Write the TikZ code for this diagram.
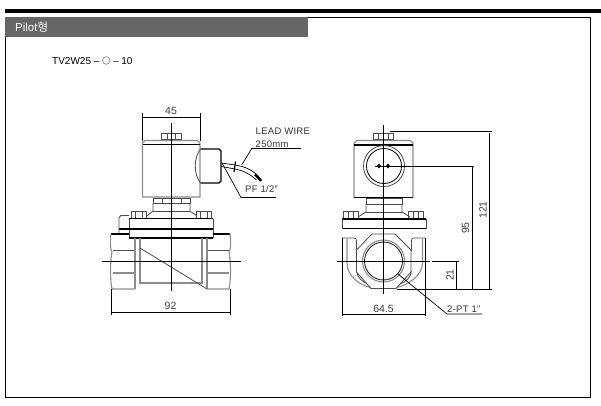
\documentclass[tikz,border=0pt]{standalone}
\usepackage{fontspec}
\setmainfont{Liberation Sans}
\newfontfamily\krfont{Noto Sans CJK KR}
\tikzset{
  part/.style={line width=0.8pt,black!70},
  grayp/.style={line width=1.1pt,black!45},
  heavy/.style={line width=1.1pt,black},
  dimline/.style={line width=0.7pt,black},
  center line/.style={line width=0.8pt,black},
  lab/.style={inner sep=0pt,font=\fontsize{10.5}{10.5}\selectfont,text=black!75},
  spaced/.style={inner sep=0pt,anchor=west,font=\fontsize{9.5}{10}\selectfont,text=black!80},
}
\begin{document}
\begin{tikzpicture}[x=1pt,y=-1pt]
\useasboundingbox (0,0) rectangle (601,405);
\fill[white] (0,0) rectangle (601,405);
% frame
\fill[black] (5,9) rectangle (601,13);
\draw[line width=0.9pt] (308,17.5) -- (590,17.5) -- (590,397) -- (5.5,397) -- (5.5,37);
\fill[black!60] (5,17) rectangle (308,37);
\node[inner sep=0pt,anchor=west,text=white,font=\fontsize{11.5}{12}\selectfont] (title) at (15,27.5) {Pilot{\krfont 형}};
\node[inner sep=0pt,anchor=west,font=\fontsize{10}{10}\selectfont] (model) at (52,60.5) {TV2W25 – \tikz[baseline=-3.5pt,x=1pt,y=1pt]\draw[line width=0.5pt,black!60] (0,0) circle[radius=3.8]; – 10};
% ---- left view
\draw[part] (161,139) -- (161,133) -- (181,133) -- (181,139) -- cycle;
\draw[part] (167,133) -- (167,139) (175,133) -- (175,139);
\draw[grayp] (142.5,197) -- (142.5,143) -- (145,140.5) -- (197,140.5) -- (200,143) -- (200,197) -- cycle;
\draw[heavy] (142.5,144.5) -- (200,144.5);
\draw[heavy] (200.5,149) -- (219,149) -- (221,151) -- (221,181) -- (219,183) -- (200.5,183);
\draw[part] (200.5,149) .. controls (193.5,158) and (193.5,174) .. (200.5,183);
% wires and leaders
\draw[line width=0.7pt] (221.5,163) -- (235,165) .. controls (245,166.5) and (254,170) .. (261.5,180);
\draw[line width=0.7pt] (221.5,166.5) -- (235,169) .. controls (243,170.5) and (250,174) .. (256.5,180);
\draw[line width=2.2pt] (255,174.5) -- (261,181);
\draw[line width=1.2pt] (235.5,161.5) -- (234,172);
\coordinate (lw1) at (241.7,165);\coordinate (lw2) at (251.7,148.5);\coordinate (lw3) at (301,148.5);
\draw[dimline] (lw1) -- (lw2) -- (lw3);
\coordinate (pf1) at (222,163);\coordinate (pf2) at (241,197.5);\coordinate (pf3) at (276,197.5);
\draw[dimline] (pf1) -- (pf2) -- (pf3);
\node[spaced] (lead) at (255.5,131.5) {\addfontfeature{LetterSpace=3}LEAD WIRE};
\node[spaced] (len) at (255.5,144) {\addfontfeature{LetterSpace=3}250mm};
\node[spaced] (pf) at (245,189.5) {\addfontfeature{LetterSpace=3}PF 1/2"};
% nut, neck
\draw[part] (153,203) -- (153,198) -- (190,198) -- (190,203) -- cycle;
\draw[part] (162,198) -- (162,203) (181,198) -- (181,203);
\draw[part] (153,203) -- (153,211) -- (147,216) (190,203) -- (190,211) -- (197,216);
\draw[part] (153,211) -- (190,211);
% bolts
\foreach \xa in {131,196}{
  \draw[part] (\xa,218) -- (\xa,211.5) -- (\xa+15,211.5) -- (\xa+15,218);
  \draw[part] (\xa+4,211.5) -- (\xa+4,218) (\xa+11,211.5) -- (\xa+11,218);
}
% plates
\draw[heavy] (129,218.5) -- (213,218.5);
\draw[part] (129,218.5) -- (129,238) (213,218.5) -- (213,238);
\draw[heavy] (119,229) -- (213,229);
\draw[heavy] (129,238) -- (213,238);
\draw[part] (129,215.5) -- (121,215.5) -- (119,217.5) -- (119,234);
% ports
\draw[heavy] (129,234) -- (111,234) (213,234) -- (230,234);
\draw[grayp] (111,234) .. controls (110,242) and (110,248) .. (112,252) .. controls (110,262) and (110,280) .. (112,289) -- (135,289);
\draw[grayp] (230,234) .. controls (231,242) and (231,248) .. (229,252) .. controls (231,262) and (231,280) .. (229,289) -- (207,289);
\draw[part] (113,250) -- (135,250) (207,250) -- (229,250);
\draw[grayp] (113,273) -- (135,273) (207,273) -- (229,273);
\draw[grayp] (135,238) -- (135,289) (207,238) -- (207,289);
\draw[grayp] (140,238) -- (140,283) -- (202,283) -- (202,238);
\draw[part] (140,248) -- (207,289);
% center lines
\coordinate (lc1) at (171,123);\coordinate (lc2) at (171,291);
\coordinate (lh1) at (102,261);\coordinate (lh2) at (241,261);
\draw[center line] (lc1) -- (lc2) (lh1) -- (lh2);
% left dims
\coordinate (d45a) at (142.5,117);\coordinate (d45b) at (200,117);
\draw[dimline] (d45a) -- (d45b) (142.5,113) -- (142.5,141) (200,113) -- (200,141);
\node[lab] (t45) at (171,111) {45};
\coordinate (d92a) at (111.5,312);\coordinate (d92b) at (230,312);
\draw[dimline] (d92a) -- (d92b) (111.5,289) -- (111.5,315) (230,289) -- (230,315);
\node[lab] (t92) at (170.5,306) {92};
% ---- right view
\draw[part] (373,139) -- (373,133) -- (393.5,133) -- (393.5,139) -- cycle;
\draw[part] (378,133) -- (378,139) (388,133) -- (388,139);
\draw[grayp] (354,197.5) -- (354,143) -- (357,140.5) -- (410,140.5) -- (413,143) -- (413,197.5);
\draw[heavy] (354,145) -- (413,145);
\draw[heavy] (354,197.5) -- (413,197.5);
\draw[part] (384,166) circle[radius=20.5];
\draw[line width=0.8pt] (384,166) circle[radius=17.5];
\foreach \xa in {379,388}{\fill[black] (\xa,163.5) -- (\xa+2,166) -- (\xa,168.5) -- (\xa-2,166) -- cycle;}
\draw[line width=0.8pt] (375,166) -- (392,166);
\draw[part] (366,204) -- (366,198) -- (402,198) -- (402,204) -- cycle;
\draw[part] (366,204) -- (366,212) -- (358,217) (402,204) -- (402,212) -- (410,217);
\draw[part] (366,212) -- (402,212);
\foreach \xa in {343,408.5}{
  \draw[part] (\xa,218) -- (\xa,211.5) -- (\xa+15,211.5) -- (\xa+15,218);
  \draw[part] (\xa+5,211.5) -- (\xa+5,218) (\xa+10,211.5) -- (\xa+10,218);
}
\draw[heavy] (342,219) -- (426,219);
\draw[heavy] (342,228.5) -- (426,228.5);
\draw[part] (342,219) -- (342,228.5) (426,219) -- (426,228.5);
\draw[part] (342,238) -- (354,238) .. controls (356,238) and (356.5,239) .. (356.5,241) -- (356.5,251);
\draw[part] (425,238) -- (413.5,238) .. controls (412,238) and (411.5,239) .. (411.5,241) -- (411.5,251);
\draw[grayp] (347,239) -- (347,263) .. controls (347,275) and (358,285) .. (372,288);
\draw[grayp] (422.5,239) -- (422.5,263) .. controls (422.5,275) and (409,285) .. (395,288);
\draw[part] (356.5,271) .. controls (357,277) and (362,282) .. (368,284);
\draw[part] (411.5,271) .. controls (411,277) and (406,282) .. (400,284);
\draw[part,fill=white] (372,234) -- (395,234) -- (411,250) -- (411,272) -- (396,288.5) -- (371,288.5) -- (356.5,272) -- (356.5,250) -- cycle;
\draw[grayp] (383.5,261) circle[radius=21];
\draw[line width=0.9pt,black!85] (383.5,261) circle[radius=19];
\coordinate (rc1) at (383,125);\coordinate (rc2) at (383,294);
\coordinate (rh1) at (337,261.5);\coordinate (rh2) at (430,261.5);
\draw[center line] (rc1) -- (rc2) (rh1) -- (rh2);
% right dims
\draw[dimline] (342,238) -- (342,316) (425.5,238) -- (425.5,316);
\coordinate (d645a) at (342,314);\coordinate (d645b) at (425.5,314);
\draw[dimline] (d645a) -- (d645b);
\node[lab] (t645) at (383.5,309) {64.5};
\draw[dimline] (390,131) -- (492,131) (392,166) -- (474,166) (432,261.5) -- (459,261.5) (397,289) -- (492,289);
\coordinate (d121) at (489.5,133);\coordinate (d95) at (472,167);\coordinate (d21) at (456,261.5);
\draw[dimline] (d121) -- (489.5,289) (d95) -- (472,289) (d21) -- (456,289);
\node[lab,rotate=90] (t121) at (483,210) {121};
\node[lab,rotate=90] (t95) at (465.5,228) {95};
\node[lab,rotate=90] (t21) at (450,275) {21};
\coordinate (pt1) at (398,274);\coordinate (pt2) at (447,314);\coordinate (pt3) at (482,314);
\draw[dimline] (pt1) -- (pt2) -- (pt3);
\node[spaced] (pt) at (447,309) {\addfontfeature{LetterSpace=3}2-PT 1"};
\end{tikzpicture}
\end{document}
